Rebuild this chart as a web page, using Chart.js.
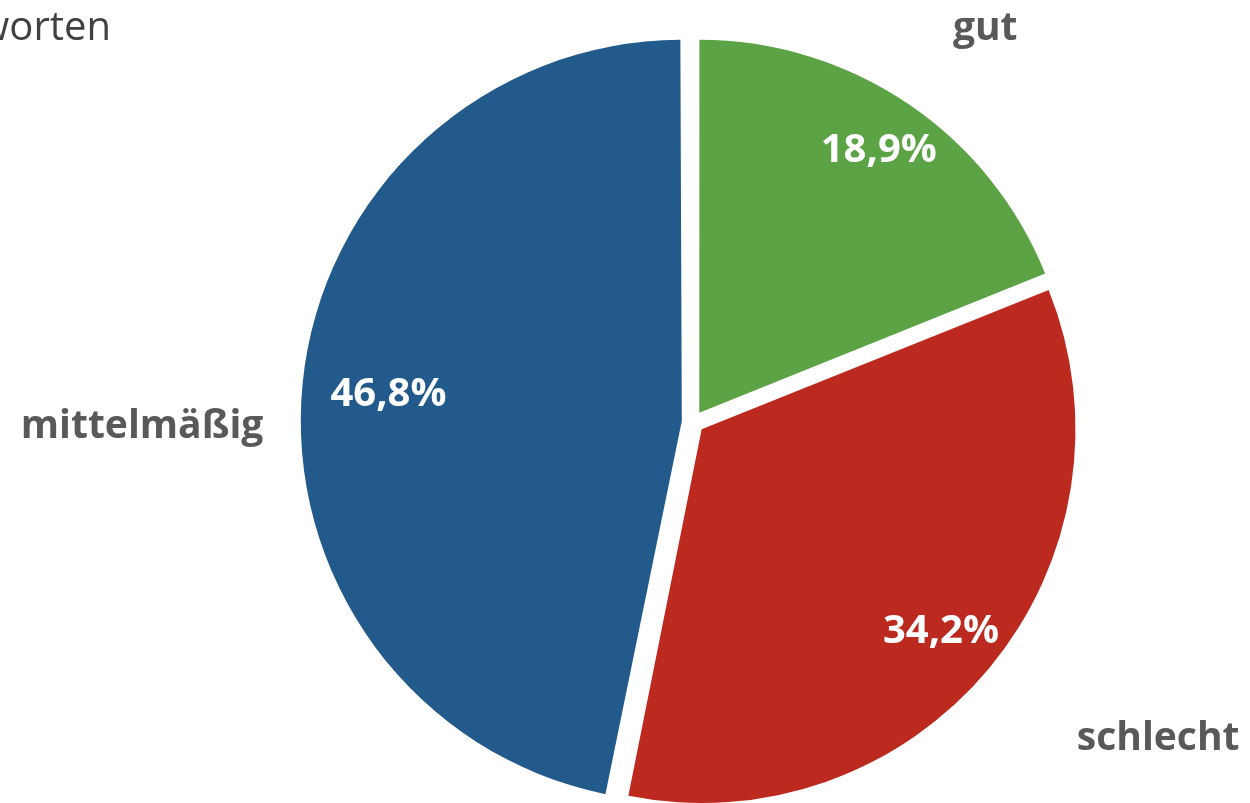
<!DOCTYPE html>
<html>
<head>
<meta charset="utf-8">
<script src="https://cdn.jsdelivr.net/npm/chart.js@4"></script>
<style>
  html, body { margin: 0; padding: 0; background: #ffffff; overflow: hidden; }
  #wrap { position: absolute; left: 0; top: 0; width: 1250px; height: 844px; }
</style>
</head>
<body>
<div id="wrap"><canvas id="c"></canvas></div>
<script>
// ---- data ----
const categories = ['gut', 'schlecht', 'mittelmäßig'];
const shares = [18.9, 34.2, 46.8];
const percentLabels = ['18,9%', '34,2%', '46,8%'];
const titleText = 'worten';

// ---- styles ----
const sliceColors = ['#5BA345', '#BC2A1F', '#235A8C'];

const labelPlugin = {
  id: 'sliceLabels',
  afterDatasetsDraw(chart, args, opts) {
    const ctx = chart.ctx;
    const meta = chart.getDatasetMeta(0);
    const off = (chart.data.datasets[0].offset || 0) / 4;
    meta.data.forEach((arc, i) => {
      const p = arc.getProps(['x', 'y', 'startAngle', 'endAngle', 'outerRadius'], true);
      const mid = (p.startAngle + p.endAngle) / 2;
      const c = Math.cos(mid), s = Math.sin(mid);
      ctx.save();
      // inside-end percentage label
      ctx.font = 'bold 40px "Open Sans"';
      ctx.textAlign = 'center';
      ctx.textBaseline = 'alphabetic';
      const txt = percentLabels[i];
      const w = ctx.measureText(txt).width;
      const h = 29;
      const ext = Math.abs(c) * w / 2 + Math.abs(s) * h / 2;
      const d = off + p.outerRadius - opts.inset[i] - ext;
      ctx.fillStyle = '#ffffff';
      ctx.fillText(txt, p.x + c * d, p.y + s * d + h / 2);
      // outside category label
      const a = mid + opts.outerShift[i] * Math.PI / 180;
      const od = p.outerRadius * opts.outerDist[i];
      ctx.font = 'bold 39px "Open Sans"';
      ctx.fillStyle = '#595959';
      ctx.fillText(categories[i], p.x + Math.cos(a) * od, p.y + Math.sin(a) * od + 15.4);
      ctx.restore();
    });
    // partially visible title
    ctx.save();
    ctx.font = '40px "Open Sans"';
    ctx.fillStyle = '#404040';
    ctx.textAlign = 'right';
    ctx.textBaseline = 'alphabetic';
    ctx.fillText(titleText, 111, 40);
    ctx.restore();
  }
};

new Chart(document.getElementById('c'), {
  type: 'pie',
  data: {
    labels: categories,
    datasets: [{
      data: shares,
      backgroundColor: sliceColors,
      borderWidth: 0,
      offset: 45
    }]
  },
  options: {
    responsive: true,
    maintainAspectRatio: false,
    animation: false,
    events: [],
    layout: { padding: { left: 136, right: 0, top: 27.5, bottom: 27.5 } },
    plugins: {
      legend: { display: false },
      title: { display: false },
      tooltip: { enabled: false },
      sliceLabels: {
        inset: [7, 7, 18],
        outerShift: [2.3, -5.8, -5.7],
        outerDist: [1.325, 1.507, 1.481]
      }
    }
  },
  plugins: [labelPlugin]
});
</script>
</body>
</html>
